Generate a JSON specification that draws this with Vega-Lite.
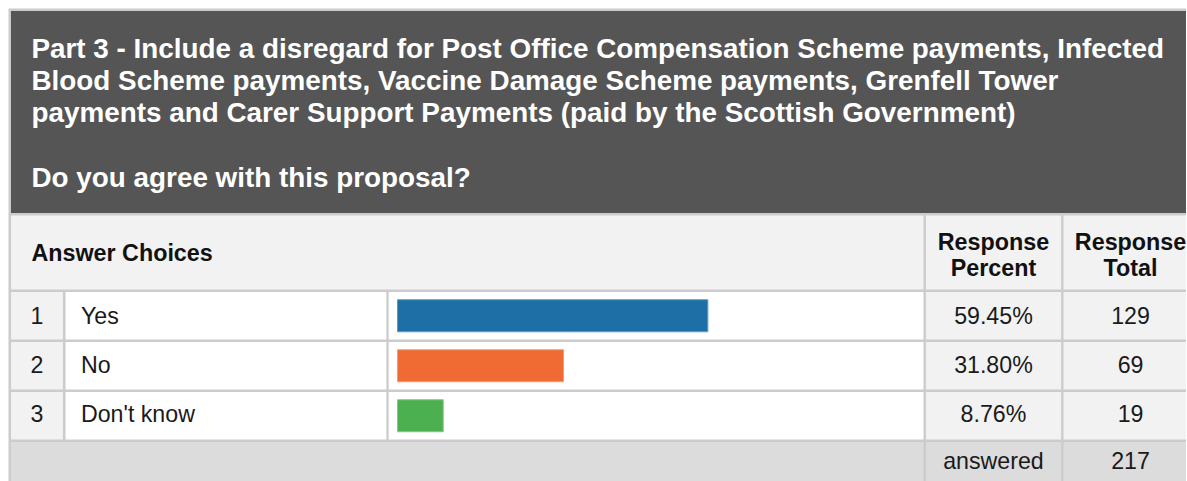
{
  "$schema": "https://vega.github.io/schema/vega-lite/v6.json",
  "width": 1187,
  "height": 481,
  "padding": 0,
  "autosize": {"type": "fit", "contains": "padding"},
  "background": "#ffffff",
  "config": {"view": {"stroke": null}, "text": {"font": "Liberation Sans"}},
  "datasets": {
    "rows": [
      {"n": 1, "choice": "Yes", "pct": 0.5945, "total": 129},
      {"n": 2, "choice": "No", "pct": 0.318, "total": 69},
      {"n": 3, "choice": "Don't know", "pct": 0.0876, "total": 19}
    ],
    "summary": [{"label": "answered", "answered": 217}],
    "one": [{}]
  },
  "resolve": {"scale": {"x": "independent", "y": "independent", "color": "independent", "stroke": "independent"}},
  "layer": [
    {"data": {"name": "one"}, "mark": {"type": "rect", "color": "#cccccc"},
     "encoding": {"x": {"datum": 8.5, "type": "quantitative", "scale": {"domain": [0, 1187], "nice": false, "zero": false}, "axis": null}, "x2": {"datum": 1187},
                  "y": {"datum": 8.5, "type": "quantitative", "scale": {"domain": [0, 481], "nice": false, "zero": false, "reverse": true}, "axis": null}, "y2": {"datum": 481}}},
    {"data": {"name": "one"}, "mark": {"type": "rect", "color": "#555555"},
     "encoding": {"x": {"datum": 11, "type": "quantitative", "scale": {"domain": [0, 1187], "nice": false, "zero": false}, "axis": null}, "x2": {"datum": 1187},
                  "y": {"datum": 11, "type": "quantitative", "scale": {"domain": [0, 481], "nice": false, "zero": false, "reverse": true}, "axis": null}, "y2": {"datum": 213}}},
    {"data": {"name": "one"}, "mark": {"type": "rect", "color": "#f2f2f2"},
     "encoding": {"x": {"datum": 11, "type": "quantitative", "scale": {"domain": [0, 1187], "nice": false, "zero": false}, "axis": null}, "x2": {"datum": 924.3},
                  "y": {"datum": 215.5, "type": "quantitative", "scale": {"domain": [0, 481], "nice": false, "zero": false, "reverse": true}, "axis": null}, "y2": {"datum": 289.5}}},
    {"data": {"name": "one"}, "mark": {"type": "rect", "color": "#f2f2f2"},
     "encoding": {"x": {"datum": 926.7, "type": "quantitative", "scale": {"domain": [0, 1187], "nice": false, "zero": false}, "axis": null}, "x2": {"datum": 1062},
                  "y": {"datum": 215.5, "type": "quantitative", "scale": {"domain": [0, 481], "nice": false, "zero": false, "reverse": true}, "axis": null}, "y2": {"datum": 289.5}}},
    {"data": {"name": "one"}, "mark": {"type": "rect", "color": "#f2f2f2"},
     "encoding": {"x": {"datum": 1064.4, "type": "quantitative", "scale": {"domain": [0, 1187], "nice": false, "zero": false}, "axis": null}, "x2": {"datum": 1187},
                  "y": {"datum": 215.5, "type": "quantitative", "scale": {"domain": [0, 481], "nice": false, "zero": false, "reverse": true}, "axis": null}, "y2": {"datum": 289.5}}},
    {"data": {"name": "one"}, "mark": {"type": "rect", "color": "#dcdcdc"},
     "encoding": {"x": {"datum": 11, "type": "quantitative", "scale": {"domain": [0, 1187], "nice": false, "zero": false}, "axis": null}, "x2": {"datum": 924.3},
                  "y": {"datum": 442, "type": "quantitative", "scale": {"domain": [0, 481], "nice": false, "zero": false, "reverse": true}, "axis": null}, "y2": {"datum": 481}}},
    {"data": {"name": "one"}, "mark": {"type": "rect", "color": "#dcdcdc"},
     "encoding": {"x": {"datum": 926.7, "type": "quantitative", "scale": {"domain": [0, 1187], "nice": false, "zero": false}, "axis": null}, "x2": {"datum": 1062},
                  "y": {"datum": 442, "type": "quantitative", "scale": {"domain": [0, 481], "nice": false, "zero": false, "reverse": true}, "axis": null}, "y2": {"datum": 481}}},
    {"data": {"name": "one"}, "mark": {"type": "rect", "color": "#dcdcdc"},
     "encoding": {"x": {"datum": 1064.4, "type": "quantitative", "scale": {"domain": [0, 1187], "nice": false, "zero": false}, "axis": null}, "x2": {"datum": 1187},
                  "y": {"datum": 442, "type": "quantitative", "scale": {"domain": [0, 481], "nice": false, "zero": false, "reverse": true}, "axis": null}, "y2": {"datum": 481}}},
    {"data": {"name": "rows"}, "mark": {"type": "rect", "color": "#f2f2f2"},
     "encoding": {"x": {"datum": 11, "type": "quantitative", "scale": {"domain": [0, 1187], "nice": false, "zero": false}, "axis": null}, "x2": {"datum": 63},
                  "y": {"field": "n", "type": "ordinal", "scale": {"range": [292, 439.5], "paddingInner": 0.05, "paddingOuter": 0}, "axis": null}}},
    {"data": {"name": "rows"}, "mark": {"type": "rect", "color": "#ffffff"},
     "encoding": {"x": {"datum": 65.6, "type": "quantitative", "scale": {"domain": [0, 1187], "nice": false, "zero": false}, "axis": null}, "x2": {"datum": 386.7},
                  "y": {"field": "n", "type": "ordinal", "scale": {"range": [292, 439.5], "paddingInner": 0.05, "paddingOuter": 0}, "axis": null}}},
    {"data": {"name": "rows"}, "mark": {"type": "rect", "color": "#ffffff"},
     "encoding": {"x": {"datum": 389, "type": "quantitative", "scale": {"domain": [0, 1187], "nice": false, "zero": false}, "axis": null}, "x2": {"datum": 924.3},
                  "y": {"field": "n", "type": "ordinal", "scale": {"range": [292, 439.5], "paddingInner": 0.05, "paddingOuter": 0}, "axis": null}}},
    {"data": {"name": "rows"}, "mark": {"type": "rect", "color": "#f2f2f2"},
     "encoding": {"x": {"datum": 926.7, "type": "quantitative", "scale": {"domain": [0, 1187], "nice": false, "zero": false}, "axis": null}, "x2": {"datum": 1062},
                  "y": {"field": "n", "type": "ordinal", "scale": {"range": [292, 439.5], "paddingInner": 0.05, "paddingOuter": 0}, "axis": null}}},
    {"data": {"name": "rows"}, "mark": {"type": "rect", "color": "#f2f2f2"},
     "encoding": {"x": {"datum": 1064.4, "type": "quantitative", "scale": {"domain": [0, 1187], "nice": false, "zero": false}, "axis": null}, "x2": {"datum": 1187},
                  "y": {"field": "n", "type": "ordinal", "scale": {"range": [292, 439.5], "paddingInner": 0.05, "paddingOuter": 0}, "axis": null}}},
    {"data": {"name": "rows"}, "mark": {"type": "bar", "height": 32, "strokeWidth": 1},
     "encoding": {"x": {"field": "pct", "type": "quantitative", "scale": {"domain": [0, 1], "range": [397.5, 919.5], "nice": false, "zero": false}, "axis": null}, "x2": {"datum": 0},
                  "y": {"field": "n", "type": "ordinal", "scale": {"range": [292, 439.5], "paddingInner": 0.05, "paddingOuter": 0}, "axis": null},
                  "color": {"field": "choice", "type": "nominal", "scale": {"domain": ["Yes", "No", "Don't know"], "range": ["#1d6fa5", "#f06a33", "#4caf50"]}, "legend": null},
                  "stroke": {"field": "choice", "type": "nominal", "scale": {"domain": ["Yes", "No", "Don't know"], "range": ["#5e98c3", "#f69b74", "#84c887"]}, "legend": null}}},
    {"data": {"name": "one"}, "mark": {"type": "text", "align": "left", "baseline": "alphabetic", "fontSize": 27.85, "fontWeight": "bold", "color": "#ffffff", "lineHeight": 32.2,
       "text": ["Part 3 - Include a disregard for Post Office Compensation Scheme payments, Infected", "Blood Scheme payments, Vaccine Damage Scheme payments, Grenfell Tower", "payments and Carer Support Payments (paid by the Scottish Government)"]},
     "encoding": {"x": {"datum": 31.5, "type": "quantitative", "scale": {"domain": [0, 1187], "nice": false, "zero": false}, "axis": null},
                  "y": {"datum": 57.8, "type": "quantitative", "scale": {"domain": [0, 481], "nice": false, "zero": false, "reverse": true}, "axis": null}}},
    {"data": {"name": "one"}, "mark": {"type": "text", "align": "left", "baseline": "alphabetic", "fontSize": 27.85, "fontWeight": "bold", "color": "#ffffff",
       "text": "Do you agree with this proposal?"},
     "encoding": {"x": {"datum": 31.5, "type": "quantitative", "scale": {"domain": [0, 1187], "nice": false, "zero": false}, "axis": null},
                  "y": {"datum": 186.6, "type": "quantitative", "scale": {"domain": [0, 481], "nice": false, "zero": false, "reverse": true}, "axis": null}}},
    {"data": {"name": "one"}, "mark": {"type": "text", "align": "left", "baseline": "alphabetic", "fontSize": 23.3, "fontWeight": "bold", "color": "#111111", "text": "Answer Choices"},
     "encoding": {"x": {"datum": 31.5, "type": "quantitative", "scale": {"domain": [0, 1187], "nice": false, "zero": false}, "axis": null},
                  "y": {"datum": 261, "type": "quantitative", "scale": {"domain": [0, 481], "nice": false, "zero": false, "reverse": true}, "axis": null}}},
    {"data": {"name": "one"}, "mark": {"type": "text", "align": "center", "baseline": "alphabetic", "fontSize": 23.3, "fontWeight": "bold", "color": "#111111", "lineHeight": 26, "text": ["Response", "Percent"]},
     "encoding": {"x": {"datum": 994.3, "type": "quantitative", "scale": {"domain": [0, 1187], "nice": false, "zero": false}, "axis": null},
                  "y": {"datum": 249.5, "type": "quantitative", "scale": {"domain": [0, 481], "nice": false, "zero": false, "reverse": true}, "axis": null}}},
    {"data": {"name": "one"}, "mark": {"type": "text", "align": "center", "baseline": "alphabetic", "fontSize": 23.3, "fontWeight": "bold", "color": "#111111", "lineHeight": 26, "text": ["Response", "Total"]},
     "encoding": {"x": {"datum": 1131.5, "type": "quantitative", "scale": {"domain": [0, 1187], "nice": false, "zero": false}, "axis": null},
                  "y": {"datum": 249.5, "type": "quantitative", "scale": {"domain": [0, 481], "nice": false, "zero": false, "reverse": true}, "axis": null}}},
    {"data": {"name": "rows"}, "mark": {"type": "text", "align": "center", "baseline": "middle", "fontSize": 23.2, "color": "#1a1a1a"},
     "encoding": {"x": {"datum": 37, "type": "quantitative", "scale": {"domain": [0, 1187], "nice": false, "zero": false}, "axis": null},
                  "y": {"field": "n", "type": "ordinal", "scale": {"range": [292, 439.5], "paddingInner": 0.05, "paddingOuter": 0}, "axis": null},
                  "text": {"field": "n", "type": "ordinal"}}},
    {"data": {"name": "rows"}, "mark": {"type": "text", "align": "left", "baseline": "middle", "fontSize": 23.2, "color": "#1a1a1a"},
     "encoding": {"x": {"datum": 81, "type": "quantitative", "scale": {"domain": [0, 1187], "nice": false, "zero": false}, "axis": null},
                  "y": {"field": "n", "type": "ordinal", "scale": {"range": [292, 439.5], "paddingInner": 0.05, "paddingOuter": 0}, "axis": null},
                  "text": {"field": "choice", "type": "nominal"}}},
    {"data": {"name": "rows"}, "mark": {"type": "text", "align": "center", "baseline": "middle", "fontSize": 23.2, "color": "#1a1a1a"},
     "encoding": {"x": {"datum": 994.3, "type": "quantitative", "scale": {"domain": [0, 1187], "nice": false, "zero": false}, "axis": null},
                  "y": {"field": "n", "type": "ordinal", "scale": {"range": [292, 439.5], "paddingInner": 0.05, "paddingOuter": 0}, "axis": null},
                  "text": {"field": "pct", "type": "quantitative", "format": ".2%"}}},
    {"data": {"name": "rows"}, "mark": {"type": "text", "align": "center", "baseline": "middle", "fontSize": 23.2, "color": "#1a1a1a"},
     "encoding": {"x": {"datum": 1131.5, "type": "quantitative", "scale": {"domain": [0, 1187], "nice": false, "zero": false}, "axis": null},
                  "y": {"field": "n", "type": "ordinal", "scale": {"range": [292, 439.5], "paddingInner": 0.05, "paddingOuter": 0}, "axis": null},
                  "text": {"field": "total", "type": "quantitative"}}},
    {"data": {"name": "summary"}, "mark": {"type": "text", "align": "center", "baseline": "middle", "fontSize": 23.2, "color": "#1a1a1a"},
     "encoding": {"x": {"datum": 994.3, "type": "quantitative", "scale": {"domain": [0, 1187], "nice": false, "zero": false}, "axis": null},
                  "y": {"datum": 461.5, "type": "quantitative", "scale": {"domain": [0, 481], "nice": false, "zero": false, "reverse": true}, "axis": null},
                  "text": {"field": "label", "type": "nominal"}}},
    {"data": {"name": "summary"}, "mark": {"type": "text", "align": "center", "baseline": "middle", "fontSize": 23.2, "color": "#1a1a1a"},
     "encoding": {"x": {"datum": 1131.5, "type": "quantitative", "scale": {"domain": [0, 1187], "nice": false, "zero": false}, "axis": null},
                  "y": {"datum": 461.5, "type": "quantitative", "scale": {"domain": [0, 481], "nice": false, "zero": false, "reverse": true}, "axis": null},
                  "text": {"field": "answered", "type": "quantitative"}}}
  ]
}
